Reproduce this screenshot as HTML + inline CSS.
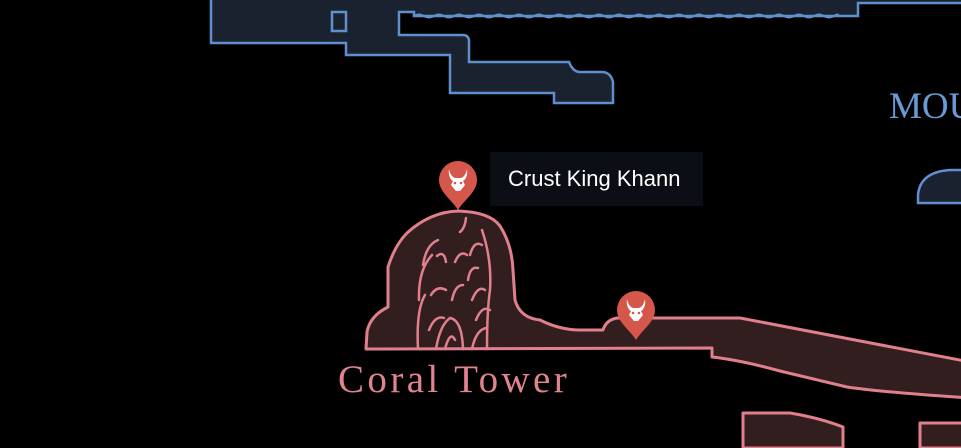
<!DOCTYPE html>
<html><head><meta charset="utf-8"><style>
html,body{margin:0;padding:0;background:#000;width:961px;height:448px;overflow:hidden}
svg{display:block}
</style></head><body>
<svg width="961" height="448" viewBox="0 0 961 448" xmlns="http://www.w3.org/2000/svg">
<defs>
<g id="pin">
<path d="M0,28 C-6,18 -19,10 -19,-2 A19,19 0 1 1 19,-2 C19,10 6,18 0,28 Z" fill="#d5564a"/>
<path d="M-9,-13 C-10,-6 -7,-2 -5,-1 L-7,3 L-2,9 L2,9 L7,3 L5,-1 C7,-2 10,-6 9,-13 C8,-8 6,-5 3,-4 L-3,-4 C-6,-5 -8,-8 -9,-13 Z" fill="#fff"/>
<circle cx="-3" cy="1" r="1.3" fill="#d5564a"/><circle cx="3" cy="1" r="1.3" fill="#d5564a"/>
</g>
</defs>
<path d="M211,-5 L211,43 L346,43 L346,55 L450,55 L450,93 L554,93 L554,103 L613,103 L613,82 Q611,73 603,72 L580,72 Q573,72 569,62 L469,62 L469,40 Q468,35 463,35 L399,35 L399,12 L414,12 L414,16 L858,16 L858,3 L970,3 L970,-5 Z" fill="#1a2230" stroke="#5f8fcc" stroke-width="2.5"/>
<path d="M414,16 q5,-3 10,0 t10,0 t10,0 t10,0 t10,0 t10,0 t10,0 t10,0 t10,0 t10,0 t10,0 t10,0 t10,0 t10,0 t10,0 t10,0 t10,0 t10,0 t10,0 t10,0 t10,0 t10,0 t10,0 t10,0 t10,0 t10,0 t10,0 t10,0 t10,0 t10,0 t10,0 t10,0 t10,0 t10,0 t10,0 t10,0 t10,0 t10,0 t10,0 t10,0 t10,0 t10,0 t4,0" fill="none" stroke="#5f8fcc" stroke-width="2"/>
<rect x="332" y="12" width="14" height="19" fill="#1a2230" stroke="#5f8fcc" stroke-width="2.5"/>
<text x="889" y="118" font-family="Liberation Serif, serif" font-size="37" fill="#6a9ad6">MOU</text>
<path d="M918,203 L918,195 Q920,172 950,170 L970,170 L970,203 Z" fill="#1a2230" stroke="#5f8fcc" stroke-width="2.5"/>
<g fill="#331e1f" stroke="#e0808c" stroke-width="3" stroke-linejoin="round">
<path d="M366,349 L367,332 Q370,316 388,307 L388,267 Q395,245 407,233 Q430,212 458,211 Q490,212 500,226 Q512,245 513,270 L515,300 Q520,318 540,320 Q560,330 580,330 L603,330 Q606,320 617,318 L740,318 L970,362 L970,398 Q880,392 847,387 L780,371 Q740,360 712,357 L712,348 L366,349 Z"/>
<path d="M743,448 L743,413 L790,413 Q820,418 843,427 L843,448 Z"/>
<path d="M920,448 L920,423 L970,423 L970,448 Z"/>
</g>
<g fill="none" stroke="#e0808c" stroke-width="2.5" stroke-linecap="round">
<path d="M418,349 Q416,310 425,295 M419,300 Q418,270 432,255 M423,265 Q426,245 438,240 M437,256 Q444,250 446,262 M431,295 Q437,285 446,290 M429,330 Q435,315 444,318"/>
<path d="M436,349 Q440,325 450,318 Q462,320 463,349 M445,349 Q450,330 455,340"/>
<path d="M472,349 Q476,330 486,328 M487,349 Q487,310 490,290 Q492,260 482,230 M472,300 Q478,285 485,290 M470,255 Q474,240 482,245 M468,280 Q470,266 478,268 M476,320 Q482,305 490,310"/>
<path d="M452,300 Q455,285 463,285 M455,262 Q460,250 467,255 M466,218 Q465,228 460,232"/>
</g>
<text x="338" y="392" font-family="Liberation Serif, serif" font-size="39" fill="#e0848f" letter-spacing="3.4">Coral Tower</text>
<rect x="490" y="152" width="213" height="54" fill="#0b0e14"/>
<text x="508" y="186" font-family="Liberation Sans, Arial, sans-serif" font-size="22" fill="#fff">Crust King Khann</text>
<use href="#pin" transform="translate(458,182)"/>
<use href="#pin" transform="translate(636,312)"/>
</svg>
</body></html>
